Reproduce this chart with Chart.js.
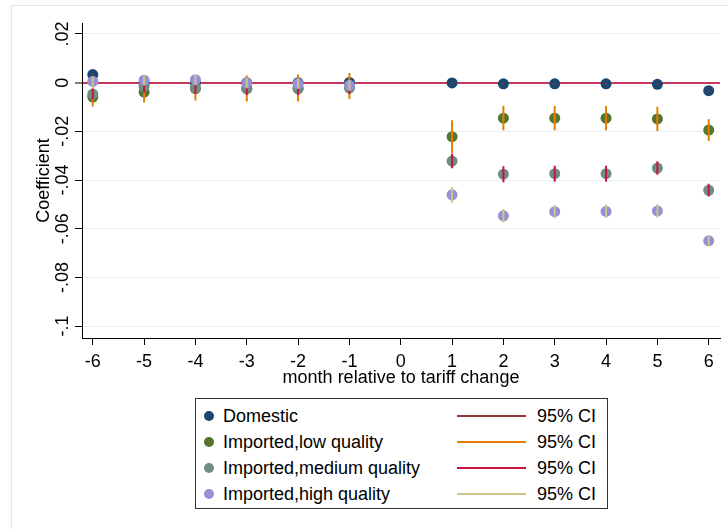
<!DOCTYPE html>
<html lang="en">
<head>
    <meta charset="UTF-8">
    <title>Coefficient by month relative to tariff change</title>
    <script src="https://cdn.jsdelivr.net/npm/chart.js"></script>
    <style>
        body {
            margin: 0;
            background: #ffffff;
            overflow: hidden;
            font-family: "Liberation Sans", Arial, sans-serif;
        }
        #frame {
            position: absolute;
            left: 11px;
            top: 5px;
            width: 800px;
            height: 600px;
            border: 1px solid #dde8ec;
        }
        #wrap {
            position: absolute;
            left: 0;
            top: 0;
            width: 727px;
            height: 529px;
        }
        #legend {
            position: absolute;
            left: 195px;
            top: 398px;
            width: 411px;
            height: 109px;
            border: 1px solid #333333;
            background: #ffffff;
        }
        .row {
            position: absolute;
            left: 0;
            width: 411px;
            height: 26px;
            font-size: 18px;
            line-height: 26px;
            color: #000000;
        }
        .dot {
            position: absolute;
            left: 8px;
            top: 8px;
            width: 10px;
            height: 10px;
            border-radius: 50%;
        }
        .name { position: absolute; left: 27px; top: 0; }
        .ciline { position: absolute; left: 261px; top: 12px; width: 69px; height: 2px; }
        .cilabel { position: absolute; left: 341px; top: 0; }
    </style>
</head>
<body>
    <div id="frame"></div>
    <div id="wrap"><canvas id="coefChart"></canvas></div>
    <div id="legend"></div>
    <script>
        // months relative to the tariff change (0 is the omitted base month)
        var months = [-6, -5, -4, -3, -2, -1, 1, 2, 3, 4, 5, 6];

        var domestic   = [0.0033, 0, 0, 0, 0, 0.0001, -0.0001, -0.0005, -0.0005, -0.0005, -0.0007, -0.0033];
        var domesticLo = [0.0030, -0.0003, -0.0003, -0.0003, -0.0003, -0.0002, -0.0004, -0.0008, -0.0008, -0.0008, -0.0010, -0.0036];
        var domesticHi = [0.0036, 0.0003, 0.0003, 0.0003, 0.0003, 0.0004, 0.0002, -0.0002, -0.0002, -0.0002, -0.0004, -0.0030];

        var lowQ   = [-0.0059, -0.0039, -0.0025, -0.0024, -0.0022, -0.0013, -0.0222, -0.0146, -0.0146, -0.0146, -0.0149, -0.0195];
        var lowQLo = [-0.0098, -0.0082, -0.0073, -0.0077, -0.0077, -0.0067, -0.0290, -0.0196, -0.0196, -0.0196, -0.0199, -0.0240];
        var lowQHi = [-0.0020, 0.0004, 0.0023, 0.0029, 0.0033, 0.0040, -0.0154, -0.0096, -0.0096, -0.0096, -0.0099, -0.0150];

        var medQ   = [-0.0047, -0.0015, -0.0022, -0.0026, -0.0026, -0.0022, -0.0322, -0.0376, -0.0374, -0.0374, -0.0351, -0.0442];
        var medQLo = [-0.0068, -0.0040, -0.0047, -0.0051, -0.0051, -0.0047, -0.0352, -0.0409, -0.0407, -0.0407, -0.0378, -0.0468];
        var medQHi = [-0.0026, 0.0010, 0.0003, -0.0001, -0.0001, 0.0003, -0.0292, -0.0343, -0.0341, -0.0341, -0.0323, -0.0415];

        var highQ   = [0.0005, 0.0010, 0.0012, -0.0001, -0.0004, -0.0011, -0.0461, -0.0547, -0.0530, -0.0529, -0.0527, -0.0650];
        var highQLo = [-0.0015, -0.0010, -0.0008, -0.0021, -0.0024, -0.0031, -0.0493, -0.0575, -0.0557, -0.0556, -0.0554, -0.0670];
        var highQHi = [0.0025, 0.0030, 0.0032, 0.0019, 0.0016, 0.0009, -0.0429, -0.0519, -0.0503, -0.0502, -0.0500, -0.0630];

        var seriesNames = ['Domestic', 'Imported,low quality', 'Imported,medium quality', 'Imported,high quality'];
        var ciName = '95% CI';

        var xTicks = [-6, -5, -4, -3, -2, -1, 0, 1, 2, 3, 4, 5, 6];
        var xTickLabels = ['-6', '-5', '-4', '-3', '-2', '-1', '0', '1', '2', '3', '4', '5', '6'];
        var yTicks = [0.02, 0, -0.02, -0.04, -0.06, -0.08, -0.1];
        var yTickLabels = ['.02', '0', '-.02', '-.04', '-.06', '-.08', '-.1'];

        var markerColors = ['rgb(26,71,111)', 'rgb(85,117,47)', 'rgb(110,142,132)', 'rgb(150,144,215)'];
        var ciColors = ['rgb(144,53,59)', 'rgb(227,126,0)', 'rgb(200,20,60)', 'rgb(206,198,134)'];
        var zeroLineColor = 'rgb(200,56,90)';
        var gridColor = '#e8f0f2';
        var FONT = '"Liberation Sans", Arial, sans-serif';

        function points(ys) {
            return months.map(function(m, i) { return {x: m, y: ys[i]}; });
        }

        // vertical spikes: lo -> hi for each month, broken by a gap
        function spikes(lo, hi) {
            var out = [];
            months.forEach(function(m, i) {
                out.push({x: m, y: lo[i]});
                out.push({x: m, y: hi[i]});
                out.push({x: m, y: null});
            });
            return out;
        }

        var coefs = [domestic, lowQ, medQ, highQ];
        var los = [domesticLo, lowQLo, medQLo, highQLo];
        var his = [domesticHi, lowQHi, medQHi, highQHi];

        var datasets = [];
        var drawOrder = 8;  // higher order is drawn first
        coefs.forEach(function(c, k) {
            datasets.push({
                type: 'scatter',
                label: seriesNames[k],
                data: points(c),
                backgroundColor: markerColors[k],
                borderColor: markerColors[k],
                borderWidth: 0,
                pointRadius: 5.5,
                order: drawOrder--
            });
            datasets.push({
                type: 'line',
                label: ciName,
                data: spikes(los[k], his[k]),
                borderColor: ciColors[k],
                borderWidth: 2,
                pointRadius: 0,
                spanGaps: false,
                fill: false,
                order: drawOrder--
            });
        });

        var ctx = document.getElementById('coefChart').getContext('2d');
        var chart = new Chart(ctx, {
            data: {datasets: datasets},
            options: {
                responsive: true,
                maintainAspectRatio: false,
                animation: false,
                layout: {padding: {left: 0, top: 23, right: 7, bottom: 140}},
                plugins: {legend: {display: false}, tooltip: {enabled: false}},
                scales: {
                    x: {
                        type: 'linear',
                        min: -6.21,
                        max: 6.22,
                        afterBuildTicks: function(scale) {
                            scale.ticks = xTicks.map(function(v) { return {value: v}; });
                        },
                        afterFit: function(scale) { scale.height = 51; },
                        grid: {drawOnChartArea: false, drawTicks: true, tickLength: 7, tickColor: '#000', tickWidth: 1},
                        border: {display: true, color: '#000', width: 1},
                        ticks: {
                            color: '#000',
                            padding: 6,
                            maxRotation: 0,
                            autoSkip: false,
                            font: {family: FONT, size: 18},
                            callback: function(v) { return xTickLabels[xTicks.indexOf(v)]; }
                        },
                        title: {
                            display: true,
                            text: 'month relative to tariff change',
                            color: '#000',
                            padding: {top: 0, bottom: 0},
                            font: {family: FONT, size: 18}
                        }
                    },
                    y: {
                        type: 'linear',
                        min: -0.1049,
                        max: 0.0245,
                        afterBuildTicks: function(scale) {
                            scale.ticks = yTicks.map(function(v) { return {value: v}; });
                        },
                        afterFit: function(scale) { scale.width = 82; },
                        grid: {
                            drawOnChartArea: true,
                            drawTicks: true,
                            tickLength: 7,
                            tickColor: '#000',
                            tickWidth: 1,
                            color: function(c) { return c.tick && c.tick.value === 0 ? zeroLineColor : gridColor; },
                            lineWidth: function(c) { return c.tick && c.tick.value === 0 ? 2 : 1; }
                        },
                        border: {display: true, color: '#000', width: 1},
                        ticks: {
                            color: '#000',
                            padding: -4,
                            minRotation: 90,
                            maxRotation: 90,
                            crossAlign: 'center',
                            autoSkip: false,
                            font: {family: FONT, size: 18},
                            callback: function(v) { return yTickLabels[yTicks.indexOf(v)]; }
                        },
                        title: {
                            display: true,
                            text: 'Coefficient',
                            color: '#000',
                            padding: {top: 33, bottom: 0},
                            font: {family: FONT, size: 18}
                        }
                    }
                }
            }
        });

        // legend in two columns: marker + name, CI line + label
        var legend = document.getElementById('legend');
        seriesNames.forEach(function(name, k) {
            var row = document.createElement('div');
            row.className = 'row';
            row.style.top = (4 + k * 26) + 'px';
            row.innerHTML =
                '<span class="dot" style="background:' + markerColors[k] + '"></span>' +
                '<span class="name">' + name + '</span>' +
                '<span class="ciline" style="background:' + ciColors[k] + '"></span>' +
                '<span class="cilabel">' + ciName + '</span>';
            legend.appendChild(row);
        });
    </script>
</body>
</html>
